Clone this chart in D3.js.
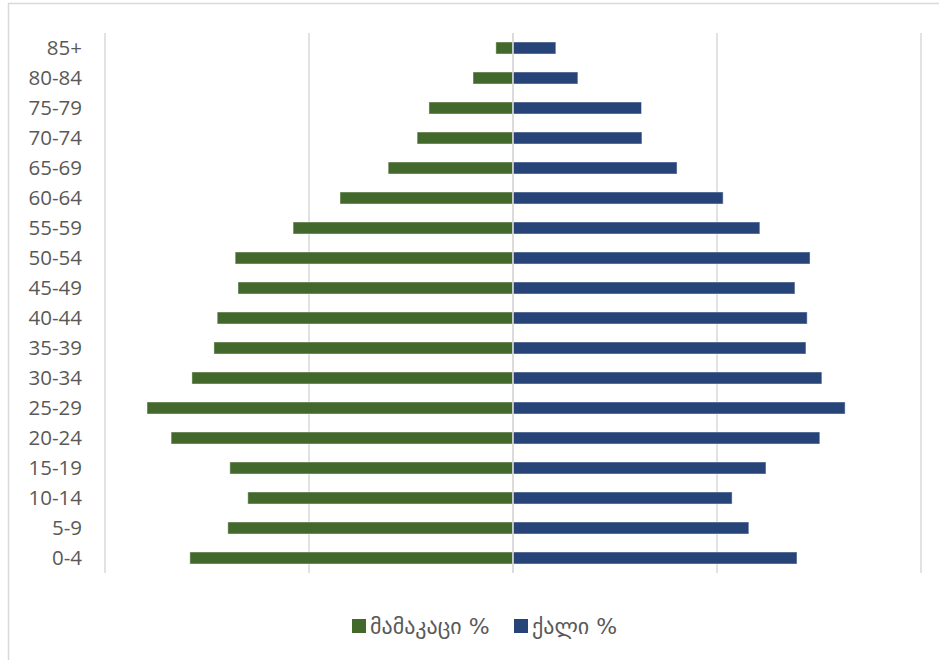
<!DOCTYPE html>
<html>
<head>
<meta charset="utf-8">
<script src="https://cdn.jsdelivr.net/npm/d3@7"></script>
<style>
  body { margin: 0; background: #fff; }
  svg text { font-family: "Open Sans", "DejaVu Sans", sans-serif; fill: #595959; }
</style>
</head>
<body>
<svg id="chart" width="939" height="660"></svg>
<script>
// age groups, top to bottom
var ageGroups = ["85+", "80-84", "75-79", "70-74", "65-69", "60-64", "55-59", "50-54", "45-49",
                 "40-44", "35-39", "30-34", "25-29", "20-24", "15-19", "10-14", "5-9", "0-4"];
// male %, drawn to the left
var maleValues = [0.42, 0.98, 2.06, 2.35, 3.06, 4.24, 5.39, 6.81, 6.74,
                  7.25, 7.33, 7.87, 8.97, 8.38, 6.94, 6.50, 6.99, 7.92];
// female %, drawn to the right
var femaleValues = [1.05, 1.59, 3.15, 3.16, 4.02, 5.15, 6.05, 7.28, 6.91,
                    7.21, 7.18, 7.57, 8.14, 7.52, 6.20, 5.37, 5.78, 6.96];
var gridTicks = [-10, -5, 0, 5, 10];
var seriesNames = ["მამაკაცი %", "ქალი %"];
var seriesColors = ["#43682B", "#264478"];

var svg = d3.select("#chart");

// chart frame (only left and top edges fall inside the picture)
svg.append("rect")
	.attr("x", 8.5).attr("y", 3.5)
	.attr("width", 960).attr("height", 700)
	.attr("fill", "none")
	.attr("stroke", "#d9d9d9")
	.attr("stroke-width", 1.5);

var x = d3.scaleLinear().domain([-10, 10]).range([105, 921]);
var y = d3.scaleBand().domain(ageGroups).range([33, 573]).paddingInner(0.6).paddingOuter(0.3);

// vertical gridlines
svg.append("g")
	.selectAll("line")
	.data(gridTicks)
	.enter()
	.append("line")
	.attr("x1", function(d){ return x(d); })
	.attr("x2", function(d){ return x(d); })
	.attr("y1", 33)
	.attr("y2", 573)
	.attr("stroke", "#d9d9d9")
	.attr("stroke-width", 1.5);

var bars = svg.append("g");

bars.selectAll("rect.male")
	.data(maleValues)
	.enter()
	.append("rect")
	.attr("class", "male")
	.attr("x", function(d){ return x(-d); })
	.attr("y", function(d, i){ return y(ageGroups[i]); })
	.attr("width", function(d){ return x(0) - x(-d); })
	.attr("height", y.bandwidth())
	.attr("fill", seriesColors[0])
	.attr("stroke", "rgba(255,255,255,0.45)")
	.attr("stroke-width", 1);

bars.selectAll("rect.female")
	.data(femaleValues)
	.enter()
	.append("rect")
	.attr("class", "female")
	.attr("x", x(0))
	.attr("y", function(d, i){ return y(ageGroups[i]); })
	.attr("width", function(d){ return x(d) - x(0); })
	.attr("height", y.bandwidth())
	.attr("fill", seriesColors[1])
	.attr("stroke", "rgba(255,255,255,0.45)")
	.attr("stroke-width", 1);

// centre line drawn over bars
svg.append("line")
	.attr("x1", x(0)).attr("x2", x(0))
	.attr("y1", 33).attr("y2", 573)
	.attr("stroke", "#d9d9d9")
	.attr("stroke-width", 1.5);

// category labels
var yAxis = d3.axisLeft(y).tickSize(0).tickPadding(0);
var yg = svg.append("g")
	.attr("transform", "translate(82,0)")
	.call(yAxis);
yg.select(".domain").remove();
yg.selectAll("text")
	.style("font-family", "'Open Sans', sans-serif")
	.style("font-size", "20.5px")
	.attr("dy", "0.36em")
	.attr("fill", "#595959");

// legend
var legend = svg.append("g");
var legendX = [352, 514];
seriesNames.forEach(function(name, i){
	var g = legend.append("g").attr("transform", "translate(" + legendX[i] + ",619)");
	g.append("rect")
		.attr("width", 14).attr("height", 14)
		.attr("fill", seriesColors[i]);
	g.append("text")
		.attr("x", 18).attr("y", 15)
		.style("font-family", "'DejaVu Sans', sans-serif")
		.style("font-size", "22px")
		.text(name);
});
</script>
</body>
</html>
